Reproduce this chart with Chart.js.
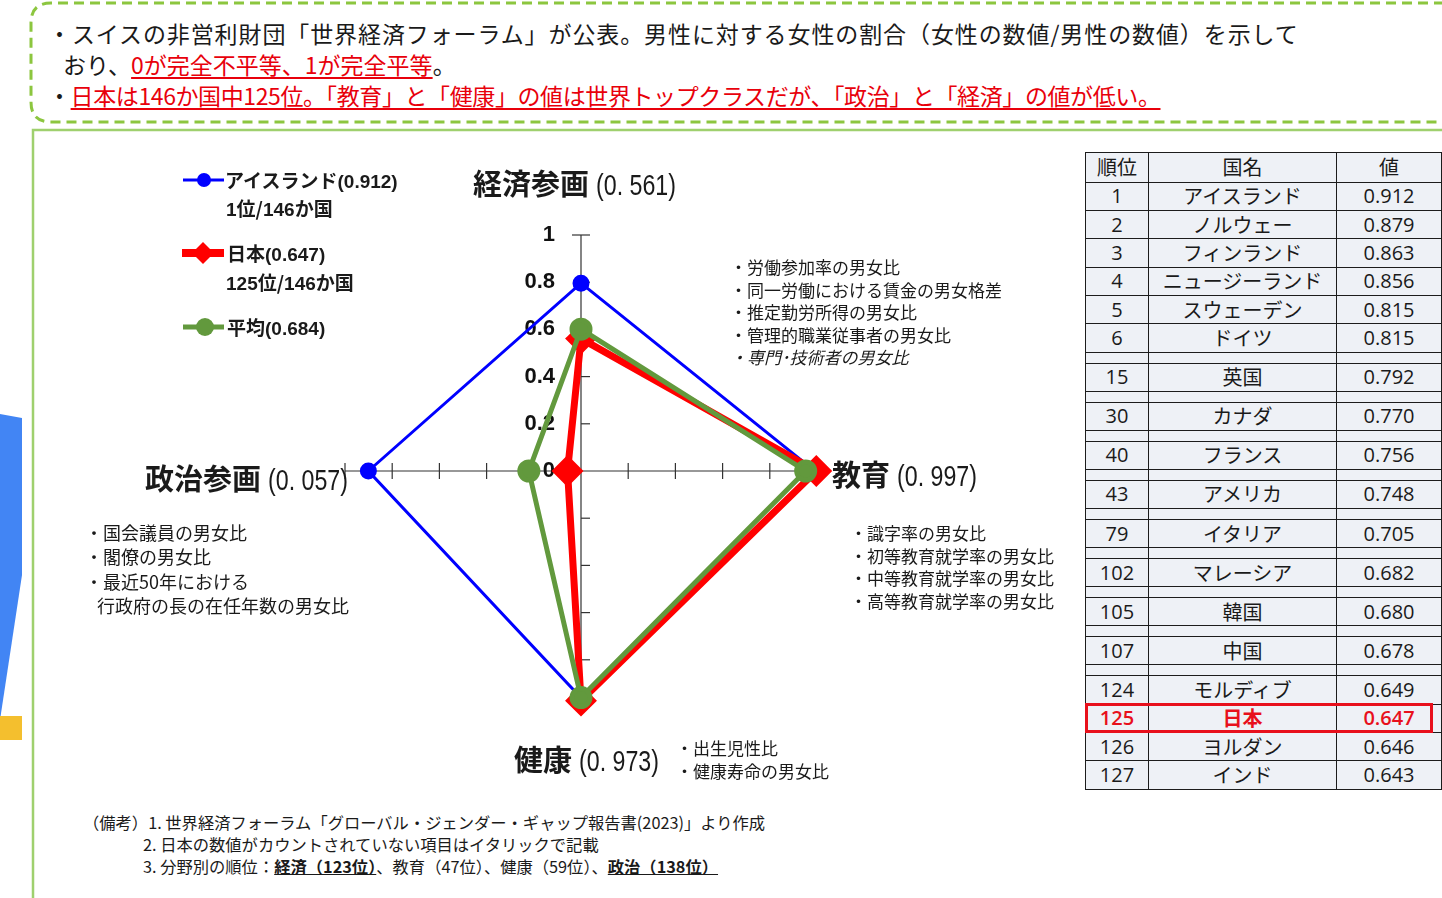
<!DOCTYPE html>
<html lang="ja">
<head>
<meta charset="utf-8">
<title>ジェンダー・ギャップ指数 2023</title>
<script src="https://cdn.jsdelivr.net/npm/chart.js@4.4.1/dist/chart.umd.min.js"></script>
<style>
  body { margin: 0; width: 1442px; height: 898px; position: relative; overflow: hidden; background: #fff;
         font-family: "Noto Sans CJK JP", sans-serif; color: #1a1a1a; }
  .abs { position: absolute; white-space: nowrap; }
  .lead { font-size: 23px; line-height: 31px; }
  .redu { color: #e8000b; text-decoration: underline; text-decoration-thickness: 2px; text-underline-offset: 3px; }
  .leg { font-size: 19px; font-weight: 700; line-height: 28px; }
  .leg .num { font-family: "Liberation Sans", sans-serif; }
  .axl { font-size: 29px; font-weight: 700; line-height: 36px; }
  .axl .num { font-family: "Liberation Sans", sans-serif; font-weight: 400; display: inline-block;
              transform: scaleX(0.8); transform-origin: 0 50%; }
  .note { font-size: 17px; line-height: 22.5px; }
  .foot { font-size: 16.3px; line-height: 22px; }
  .foot b { text-decoration: underline; }
  #rank { position: absolute; left: 1085px; top: 152px; width: 356px; border-collapse: collapse; table-layout: fixed; }
  #rank td { border: 1.5px solid #1c1c1c; padding: 0; text-align: center; font-size: 20px; line-height: 20px; background: #eef1f6; }
  #rank td.n { font-family: "Open Sans", sans-serif; }
  #rank tr.gap td { font-size: 0; line-height: 0; }
  #rank tr.jp td { color: #e8101c; font-weight: 600; }
  #jpbox { position: absolute; border: 3px solid #e8101c; box-sizing: border-box; }
</style>
</head>
<body>
<svg class="abs" style="left:0;top:0" width="1442" height="898">
  <path d="M1460,3 H51 Q31,3 31,23 V102 Q31,122 51,122 H1460" fill="none" stroke="#8cc63f" stroke-width="3" stroke-dasharray="10 6"/>
  <path d="M1442,130 H33 V898" fill="none" stroke="#9fd06e" stroke-width="2.5"/>
  <polygon points="0,414 22,418 22,575 0,720" fill="#4285f4"/>
  <rect x="0" y="716" width="22" height="24" fill="#f4bf2e"/>
</svg>

<div class="abs lead" style="left:48px;top:18px;letter-spacing:0.9px">・スイスの非営利財団「世界経済フォーラム」が公表。男性に対する女性の割合（女性の数値/男性の数値）を示して</div>
<div class="abs lead" style="left:63px;top:49px">おり、<span class="redu">0が完全不平等、1が完全平等</span>。</div>
<div class="abs lead" style="left:48px;top:80px;letter-spacing:-0.4px">・<span class="redu">日本は146か国中125位。「教育」と「健康」の値は世界トップクラスだが、「政治」と「経済」の値が低い。</span></div>

<div class="abs" style="left:305px;top:195px;width:552px;height:552px"><canvas id="radar" width="552" height="552"></canvas></div>

<!-- 凡例 -->
<svg class="abs" style="left:180px;top:165px" width="50" height="30"><line x1="3" y1="15" x2="44" y2="15" stroke="#0000ff" stroke-width="3"/><circle cx="24" cy="15" r="7" fill="#0000ff"/></svg>
<div class="abs leg" style="left:225px;top:166px">アイスランド<span class="num">(0.912)</span></div>
<div class="abs leg" style="left:226px;top:194px"><span class="num">1</span>位/<span class="num">146</span>か国</div>
<svg class="abs" style="left:180px;top:238px" width="50" height="30"><line x1="2" y1="15" x2="44" y2="15" stroke="#ff0000" stroke-width="8"/><polygon points="23,4 34,15 23,26 12,15" fill="#ff0000"/></svg>
<div class="abs leg" style="left:227px;top:239px">日本<span class="num">(0.647)</span></div>
<div class="abs leg" style="left:226px;top:268px"><span class="num">125</span>位/<span class="num">146</span>か国</div>
<svg class="abs" style="left:180px;top:312px" width="50" height="30"><line x1="3" y1="15" x2="44" y2="15" stroke="#62993d" stroke-width="5"/><circle cx="25" cy="15" r="9" fill="#62993d"/></svg>
<div class="abs leg" style="left:227px;top:313px">平均<span class="num">(0.684)</span></div>

<!-- 分野名 -->
<div class="abs axl" style="left:473px;top:164px">経済参画 <span class="num">(0. 561)</span></div>
<div class="abs axl" style="left:832px;top:455px">教育 <span class="num">(0. 997)</span></div>
<div class="abs axl" style="left:514px;top:740px">健康 <span class="num">(0. 973)</span></div>
<div class="abs axl" style="left:145px;top:459px">政治参画 <span class="num">(0. 057)</span></div>

<!-- 指標 -->
<div class="abs note" style="left:730px;top:256px">・労働参加率の男女比<br>・同一労働における賃金の男女格差<br>・推定勤労所得の男女比<br>・管理的職業従事者の男女比<br><i>・専門･技術者の男女比</i></div>
<div class="abs note" style="left:850px;top:522px">・識字率の男女比<br>・初等教育就学率の男女比<br>・中等教育就学率の男女比<br>・高等教育就学率の男女比</div>
<div class="abs note" style="left:85px;top:520px;line-height:24.3px;font-size:18px">・国会議員の男女比<br>・閣僚の男女比<br>・最近50年における<br>&nbsp;&nbsp;&nbsp;行政府の長の在任年数の男女比</div>
<div class="abs note" style="left:676px;top:737px">・出生児性比<br>・健康寿命の男女比</div>

<div class="abs foot" style="left:83px;top:811px">（備考）1. 世界経済フォーラム「グローバル・ジェンダー・ギャップ報告書(2023)」より作成</div>
<div class="abs foot" style="left:143px;top:833px">2. 日本の数値がカウントされていない項目はイタリックで記載</div>
<div class="abs foot" style="left:143px;top:855px">3. 分野別の順位：<b>経済（123位）</b>、教育（47位）、健康（59位）、<b>政治（138位）</b></div>

<table id="rank"><colgroup><col style="width:63px"><col style="width:188px"><col style="width:105px"></colgroup><tbody></tbody></table>
<div id="jpbox"></div>

<script>
// レーダーの軸（上から時計回り）
const axisLabels = ["経済参画", "教育", "健康", "政治参画"];
const icelandValues = [0.796, 0.991, 0.961, 0.901];
const japanValues = [0.561, 0.997, 0.973, 0.057];
const averageValues = [0.601, 0.952, 0.960, 0.221];
const tickValues = [0, 0.2, 0.4, 0.6, 0.8, 1];
const tickLabels = ["0", "0.2", "0.4", "0.6", "0.8", "1"];

// 順位表
const rankList = [1, 2, 3, 4, 5, 6, 15, 30, 40, 43, 79, 102, 105, 107, 124, 125, 126, 127];
const countryList = ["アイスランド", "ノルウェー", "フィンランド", "ニュージーランド", "スウェーデン", "ドイツ",
  "英国", "カナダ", "フランス", "アメリカ", "イタリア", "マレーシア", "韓国", "中国", "モルディブ", "日本", "ヨルダン", "インド"];
const scoreList = ["0.912", "0.879", "0.863", "0.856", "0.815", "0.815", "0.792", "0.770", "0.756",
  "0.748", "0.705", "0.682", "0.680", "0.678", "0.649", "0.647", "0.646", "0.643"];

// 表を作る
const tbody = document.querySelector("#rank tbody");
const addRow = (cells, cls, h) => {
  const tr = document.createElement("tr");
  if (cls) tr.className = cls;
  tr.style.height = h + "px";
  cells.forEach((c, k) => {
    const td = document.createElement("td");
    td.textContent = c;
    td.style.height = h + "px";
    if (k !== 1 && cls !== "head") td.className = "n";
    tr.appendChild(td);
  });
  tbody.appendChild(tr);
};
addRow(["順位", "国名", "値"], "head", 28.5);
rankList.forEach((rk, i) => {
  addRow([rk, countryList[i], scoreList[i]], rk === 125 ? "jp" : "", 27.4);
  if (i < rankList.length - 1 && rankList[i + 1] !== rk + 1) addRow(["", "", ""], "gap", 9.7);
});

// 日本の行を赤枠で囲む
const jpRect = document.querySelector("#rank tr.jp").getBoundingClientRect();
const jpBox = document.getElementById("jpbox");
jpBox.style.left = (jpRect.left - 1) + "px";
jpBox.style.top = (jpRect.top - 1) + "px";
jpBox.style.width = (jpRect.width - 8) + "px";
jpBox.style.height = (jpRect.height + 2) + "px";

// 軸の目盛り線と数値
const axisTicks = {
  id: "axisTicks",
  beforeDatasetsDraw(chart) {
    const r = chart.scales.r;
    const ctx = chart.ctx;
    ctx.save();
    ctx.strokeStyle = "#333";
    ctx.lineWidth = 1.2;
    axisLabels.forEach((lab, i) => {
      tickValues.forEach(v => {
        if (v === 0) return;
        const p = r.getPointPositionForValue(i, v);
        ctx.beginPath();
        if (i % 2 === 0) {
          ctx.moveTo(i === 0 && v === 1 ? p.x - 9 : p.x, p.y);
          ctx.lineTo(p.x + 9, p.y);
        } else {
          ctx.moveTo(p.x, p.y - 8);
          ctx.lineTo(p.x, p.y + 8);
        }
        ctx.stroke();
      });
    });
    ctx.fillStyle = "#111";
    ctx.font = "bold 22px 'Liberation Sans'";
    ctx.textAlign = "right";
    ctx.textBaseline = "middle";
    tickValues.forEach((v, k) => {
      const p = r.getPointPositionForValue(0, v);
      ctx.fillText(tickLabels[k], p.x - 26, p.y);
    });
    ctx.restore();
  }
};

new Chart(document.getElementById("radar"), {
  type: "radar",
  data: {
    labels: axisLabels,
    datasets: [
      { label: "アイスランド", data: icelandValues, borderColor: "#0000ff", backgroundColor: "#0000ff",
        borderWidth: 3, pointRadius: 7, pointStyle: "circle", fill: false, order: 2 },
      { label: "日本", data: japanValues, borderColor: "#ff0000", backgroundColor: "#ff0000",
        borderWidth: 7, pointRadius: 11, pointStyle: "rectRot", fill: false, order: 1 },
      { label: "平均", data: averageValues, borderColor: "#62993d", backgroundColor: "#62993d",
        borderWidth: 5, pointRadius: 9, pointStyle: "circle", fill: false, order: 0 }
    ]
  },
  options: {
    responsive: false,
    animation: false,
    layout: { padding: 40 },
    elements: { line: { tension: 0 }, point: { borderWidth: 0 } },
    plugins: { legend: { display: false }, tooltip: { enabled: false } },
    scales: {
      r: {
        min: 0,
        max: 1,
        grid: { display: false },
        angleLines: { display: true, color: "#333", lineWidth: 1.2 },
        ticks: { display: false, stepSize: 0.2 },
        pointLabels: { display: false }
      }
    }
  },
  plugins: [axisTicks]
});
</script>
</body>
</html>
